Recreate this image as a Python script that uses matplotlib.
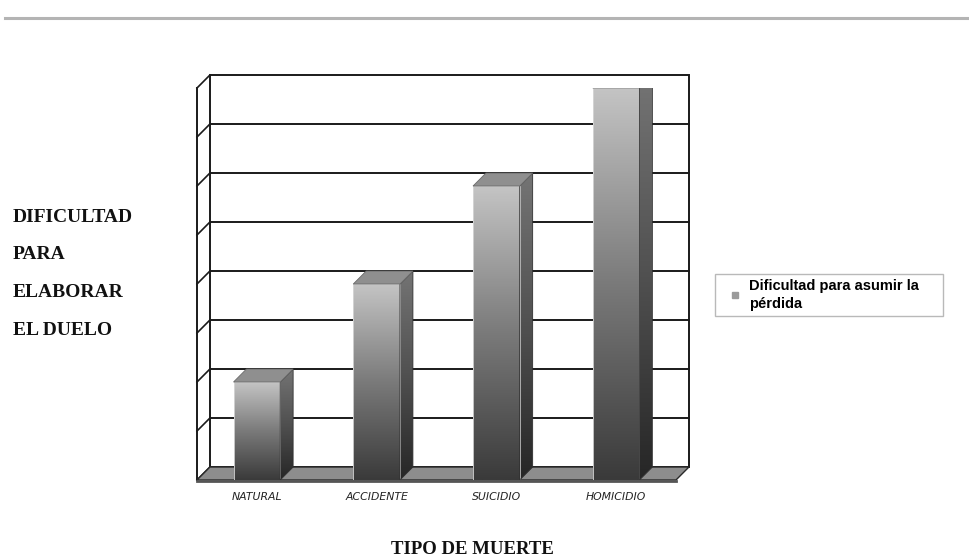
import numpy as np
import matplotlib
matplotlib.use("Agg")
from matplotlib import pyplot as plt
from matplotlib.patches import Polygon, Rectangle
from matplotlib.lines import Line2D

# data
categorias = ["NATURAL", "ACCIDENTE", "SUICIDIO", "HOMICIDIO"]
valores = [2, 4, 6, 8]
serie = "Dificultad para asumir la\npérdida"
ylabel_lines = ["DIFICULTAD", "PARA", "ELABORAR", "EL DUELO"]
xlabel = "TIPO DE MUERTE"
ymax = 8

#=======================================================================================

fig = plt.figure(figsize=(9.69, 5.6), dpi=100)
fig.patch.set_facecolor("white")
ax = fig.add_axes([197/969, 80/560, 479/969, 392/560])
ax.set_xlim(0, len(categorias))
ax.set_ylim(0, ymax)
for s in ax.spines.values():
    s.set_visible(False)
ax.set_yticks([])

# depth of the fake 3d box, in data units
dx, dy = 0.108, 0.265
n = len(categorias)
kw = dict(clip_on=False)

# back wall + grid
ax.add_patch(Rectangle((dx, dy), n, ymax, facecolor="white", edgecolor="#1a1a1a", lw=1.4, zorder=1, **kw))
for v in range(1, ymax):
    ax.plot([dx, n + dx], [v + dy, v + dy], color="#1a1a1a", lw=1.4, zorder=1.5, **kw)
# left side wall
ax.plot([0, 0], [0, ymax], color="#1a1a1a", lw=1.4, zorder=2, **kw)
for v in range(0, ymax + 1):
    ax.plot([0, dx], [v, v + dy], color="#1a1a1a", lw=1.2, zorder=2, **kw)

# floor
ax.add_patch(Polygon([(0, 0), (n, 0), (n + dx, dy), (dx, dy)], closed=True,
                     facecolor="#8d8d8d", edgecolor="#2a2a2a", lw=1.0, zorder=2, **kw))
ax.plot([0, n], [-0.03, -0.03], color="#555555", lw=2.0, zorder=2, **kw)

# bars
w = 0.39
grad = np.linspace(0, 1, 256).reshape(-1, 1)
front_cmap = matplotlib.colors.LinearSegmentedColormap.from_list("f", ["#3a3a3a", "#7a7a7a", "#c4c4c4"])
side_cmap = matplotlib.colors.LinearSegmentedColormap.from_list("s", ["#262626", "#505050", "#747474"])
for i, v in enumerate(valores):
    c = i + 0.5
    x0, x1 = c - w/2, c + w/2
    # front face with gradient
    clip = Rectangle((x0, 0), w, v, transform=ax.transData, facecolor="none", edgecolor="none")
    ax.add_patch(clip)
    im = ax.imshow(grad, cmap=front_cmap, extent=(x0, x1, 0, v), origin="lower", aspect="auto", zorder=4)
    im.set_clip_path(clip)
    ax.add_patch(Rectangle((x0, 0), w, v, facecolor="none", edgecolor="#d8d8d8", lw=0.6, zorder=4.5))
    # side face
    side = Polygon([(x1, 0), (x1 + dx, dy), (x1 + dx, v + dy), (x1, v)], closed=True,
                   facecolor="none", edgecolor="#303030", lw=0.6, zorder=4.5)
    ax.add_patch(side)
    ims = ax.imshow(grad, cmap=side_cmap, extent=(x1, x1 + dx, 0, v + dy), origin="lower", aspect="auto", zorder=4)
    ims.set_clip_path(side)
    # top face
    ax.add_patch(Polygon([(x0, v), (x1, v), (x1 + dx, v + dy), (x0 + dx, v + dy)], closed=True,
                         facecolor="#8f8f8f", edgecolor="#6a6a6a", lw=0.6, zorder=4.6))

ax.set_xlim(0, n)
ax.set_ylim(0, ymax)
ax.set_xticks(np.arange(n) + 0.5)
ax.set_xticklabels(categorias, fontsize=7.8, style="italic", family="Liberation Sans Narrow",
                   color="#222222")
ax.tick_params(axis="x", length=0, pad=9)

# axis titles
for k, t in enumerate(ylabel_lines):
    fig.text(13/969, 1 - (217 + 37.7*k)/560, t, fontsize=14, fontweight="bold",
             family="Liberation Serif", va="center", ha="left", color="#111111")
fig.text(472/969, 1 - 550/560, xlabel, fontsize=13.5, fontweight="bold",
         family="Liberation Serif", va="center", ha="center", color="#111111")

# legend
h = Line2D([], [], marker="s", linestyle="none", markersize=4.5, markerfacecolor="#9a9a9a", markeredgecolor="#9a9a9a")
leg = fig.legend([h], [serie], loc="upper left", bbox_to_anchor=(715/969, 1 - 274/560, 228/969, 0.0),
                 mode="expand", frameon=True, fancybox=False, borderpad=0.35, handlelength=2.0,
                 handletextpad=0.0, borderaxespad=0,
                 prop=dict(family="Liberation Sans", weight="bold", size=10.5))
leg.get_texts()[0].set_linespacing(1.35)
leg.get_frame().set_edgecolor("#a8a8a8")
leg.get_frame().set_linewidth(1.0)

# top rule
fig.add_artist(Line2D([5/969, 1], [1 - 18/560, 1 - 18/560], color="#b4b4b4", lw=2.2))

plt.savefig("out.png", dpi=100)
